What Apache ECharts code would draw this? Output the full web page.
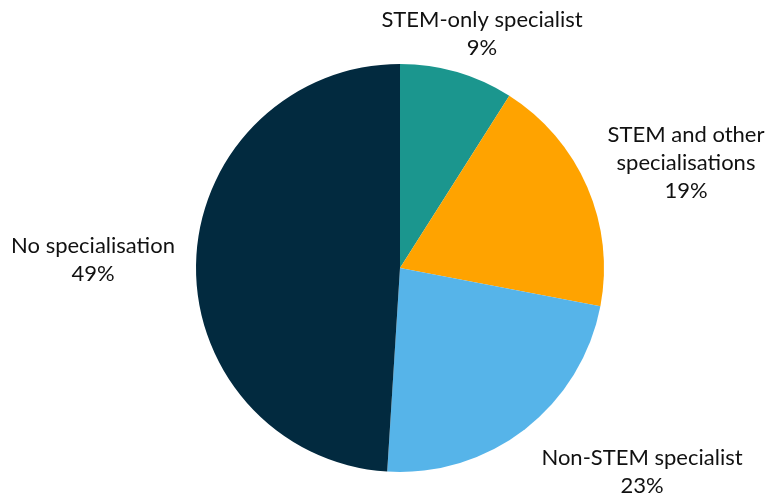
<!DOCTYPE html>
<html>
<head>
<meta charset="utf-8">
<script src="https://cdn.jsdelivr.net/npm/echarts@6/dist/echarts.min.js"></script>
<style>
  html, body { margin: 0; padding: 0; background: #fff; }
  #chart { width: 766px; height: 497px; }
</style>
</head>
<body>
<div id="chart"></div>
<script>
const categories = ['STEM-only specialist', 'STEM and other\nspecialisations', 'Non-STEM specialist', 'No specialisation'];
const values = [9, 19, 23, 49];
const colors = ['#1b968e', '#ffa300', '#56b4e9', '#022a3f'];

// label centres (px) for each slice
const labelPos = [[482, 34], [686, 163], [642, 472], [93, 260]];

const dom = document.getElementById('chart');
const myChart = echarts.init(dom);
const option = {
    backgroundColor: '#fff',
    animation: false,
    series: [{
        type: 'pie',
        center: [400, 268],
        radius: [0, 204],
        startAngle: 90,
        clockwise: true,
        label: {
            show: true,
            position: 'outside',
            formatter: p => p.name + '\n' + p.value + '%',
            fontFamily: 'Lato',
            fontSize: 22,
            lineHeight: 28,
            color: '#111',
            align: 'center',
            overflow: 'none',
            width: 300
        },
        labelLine: { show: false },
        labelLayout: p => ({
            x: labelPos[p.dataIndex][0],
            y: labelPos[p.dataIndex][1],
            align: 'center',
            verticalAlign: 'middle'
        }),
        data: categories.map((c, i) => ({ name: c, value: values[i], itemStyle: { color: colors[i] } }))
    }]
};
myChart.setOption(option);
</script>
</body>
</html>
